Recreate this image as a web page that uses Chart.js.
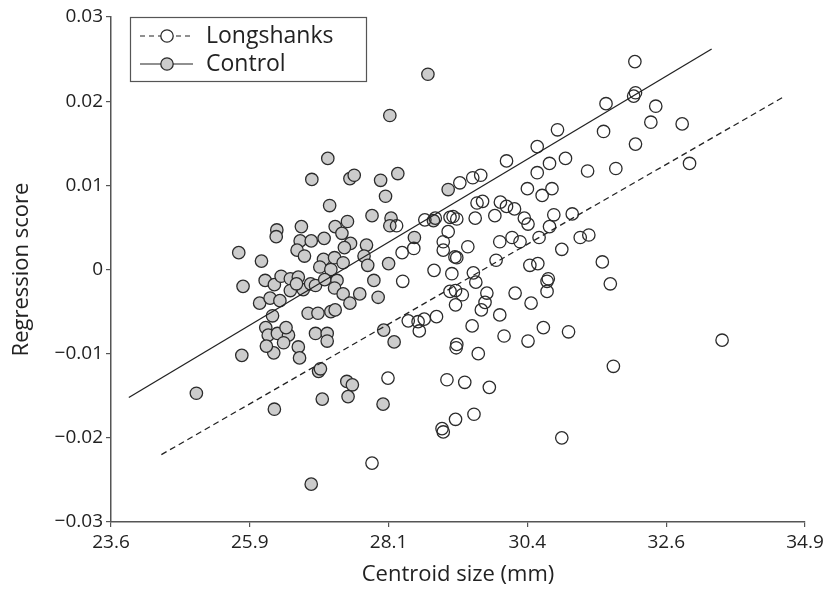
<!DOCTYPE html>
<html>
<head>
<meta charset="utf-8">
<script src="https://cdn.jsdelivr.net/npm/chart.js@4.4.1/dist/chart.umd.min.js"></script>
<style>
  html, body { margin: 0; padding: 0; background: #fff; }
  #wrap { width: 831px; height: 591px; }
</style>
</head>
<body>
<div id="wrap"><canvas id="chart" width="831" height="591"></canvas></div>
<script>
// centroid size (mm) and regression score
const controlSize = [28.76, 28.14, 27.13, 26.87, 27.49, 27.56, 27.99, 28.27, 28.07, 29.09,
  27.16, 27.85, 28.16, 28.14, 28.85, 26.70, 26.30, 26.29, 27.25, 27.45,
  27.36, 28.54, 25.68, 26.05, 26.68, 26.86, 26.63, 26.75, 27.07, 27.06,
  27.24, 27.00, 27.18, 27.38, 27.50, 27.40, 27.76, 27.72, 27.78, 27.88,
  28.12, 26.11, 26.26, 26.37, 26.52, 26.65, 26.52, 26.73, 26.85, 26.93,
  25.75, 26.02, 26.19, 26.35, 26.23, 27.08, 27.28, 27.24, 27.38, 27.49,
  27.65, 27.95, 26.81, 26.97, 27.18, 27.25, 26.12, 26.16, 26.31, 26.49,
  26.25, 26.13, 26.45, 26.65, 26.67, 26.93, 27.12, 27.12, 28.04, 28.21,
  25.73, 26.98, 27.01, 24.99, 26.26, 27.44, 27.53, 27.04, 27.46, 28.03,
  26.86, 26.41, 26.62];
const controlScore = [0.0232, 0.0183, 0.0132, 0.0107, 0.0108, 0.0112, 0.0106, 0.0114, 0.0087, 0.0095,
  0.0076, 0.0064, 0.0061, 0.0052, 0.0058, 0.0051, 0.0047, 0.0039, 0.0051, 0.0057,
  0.0043, 0.0038, 0.0020, 0.0010, 0.0034, 0.0034, 0.0023, 0.0016, 0.0037, 0.0012,
  0.0014, 0.0003, 0.0000, 0.0008, 0.0031, 0.0026, 0.0029, 0.0016, 0.0005, -0.0013,
  0.0007, -0.0013, -0.0018, -0.0008, -0.0011, -0.0009, -0.0025, -0.0024, -0.0017, -0.0019,
  -0.0020, -0.0040, -0.0034, -0.0037, -0.0055, -0.0012, -0.0013, -0.0022, -0.0029, -0.0040,
  -0.0029, -0.0033, -0.0052, -0.0052, -0.0050, -0.0048, -0.0069, -0.0078, -0.0076, -0.0078,
  -0.0099, -0.0091, -0.0069, -0.0092, -0.0105, -0.0076, -0.0076, -0.0085, -0.0072, -0.0086,
  -0.0102, -0.0121, -0.0118, -0.0147, -0.0166, -0.0133, -0.0137, -0.0154, -0.0151, -0.0160,
  -0.0255, -0.0087, -0.0017];

const longSize = [32.13, 32.14, 32.11, 31.66, 32.47, 30.87, 31.62, 32.39, 32.90, 32.14,
  30.54, 30.04, 30.74, 31.00, 33.02, 31.82, 31.36, 30.54, 29.28, 29.49,
  29.62, 30.38, 30.62, 30.78, 29.56, 29.65, 29.94, 30.04, 30.17, 29.85,
  30.33, 30.81, 31.11, 29.17, 29.53, 28.71, 28.88, 29.12, 29.23, 30.39,
  28.25, 29.09, 29.01, 29.01, 29.20, 29.93, 30.13, 30.26, 30.57, 30.74,
  30.94, 31.24, 31.38, 31.60, 28.34, 28.53, 29.41, 29.23, 29.87, 30.42,
  30.55, 28.86, 29.15, 29.50, 29.54, 28.35, 29.12, 29.21, 29.32, 29.72,
  29.69, 29.63, 30.18, 30.44, 30.72, 30.70, 30.70, 31.73, 29.21, 29.93,
  28.44, 28.60, 28.70, 28.90, 28.62, 29.48, 30.00, 30.39, 30.64, 31.05,
  33.55, 29.23, 29.22, 29.58, 31.78, 28.11, 29.07, 29.36, 29.76, 29.51,
  29.21, 28.99, 29.01, 30.94, 27.85];
const longScore = [0.0247, 0.0210, 0.0206, 0.0197, 0.0194, 0.0166, 0.0164, 0.0175, 0.0173, 0.0149,
  0.0146, 0.0129, 0.0126, 0.0132, 0.0126, 0.0120, 0.0117, 0.0115, 0.0103, 0.0109,
  0.0112, 0.0096, 0.0088, 0.0096, 0.0079, 0.0081, 0.0080, 0.0075, 0.0072, 0.0064,
  0.0061, 0.0065, 0.0066, 0.0063, 0.0061, 0.0059, 0.0061, 0.0062, 0.0060, 0.0054,
  0.0052, 0.0045, 0.0033, 0.0023, 0.0015, 0.0033, 0.0038, 0.0033, 0.0038, 0.0051,
  0.0024, 0.0038, 0.0041, 0.0009, 0.0020, 0.0025, 0.0027, 0.0014, 0.0011, 0.0005,
  0.0007, -0.0001, -0.0005, -0.0004, -0.0015, -0.0014, -0.0026, -0.0025, -0.0030, -0.0028,
  -0.0039, -0.0048, -0.0028, -0.0040, -0.0011, -0.0014, -0.0026, -0.0017, -0.0042, -0.0054,
  -0.0061, -0.0062, -0.0059, -0.0056, -0.0073, -0.0067, -0.0079, -0.0085, -0.0069, -0.0074,
  -0.0084, -0.0089, -0.0093, -0.0100, -0.0115, -0.0129, -0.0131, -0.0134, -0.0140, -0.0172,
  -0.0178, -0.0189, -0.0193, -0.0200, -0.0230];

// fitted lines (end points)
const controlFitX = [23.89, 33.38];
const controlFitY = [-0.0152, 0.0262];
const longFitX = [24.42, 34.55];
const longFitY = [-0.0220, 0.0205];

const xTicks = [23.6, 25.86, 28.12, 30.38, 32.64, 34.9];
const yTicks = [-0.03, -0.02, -0.01, 0, 0.01, 0.02, 0.03];

const FONT = "'Open Sans', 'Noto Sans', sans-serif";
const INK = "#222";
const AXIS = "#555";

function toPoints(xs, ys) {
  return xs.map((x, i) => ({ x: x, y: ys[i] }));
}

function fmtY(v) {
  if (Math.abs(v) < 1e-9) return "0";
  const s = Math.abs(v).toFixed(2);
  return v < 0 ? "\u2212" + s : s;
}

// boxed legend with line + marker samples
const boxLegend = {
  id: "boxLegend",
  afterDraw(chart) {
    const ctx = chart.ctx;
    const a = chart.chartArea;
    const left = a.left + 19;
    const top = a.top;
    const w = 236, h = 64;
    ctx.save();
    ctx.fillStyle = "#fff";
    ctx.fillRect(left, top, w, h);
    ctx.strokeStyle = AXIS;
    ctx.lineWidth = 1.2;
    ctx.strokeRect(left + 0.5, top + 0.5, w, h);

    const rows = [
      { label: "Longshanks", dash: [5, 4], fill: "rgba(255,255,255,0)" },
      { label: "Control", dash: [], fill: "#cccccc" }
    ];
    rows.forEach((r, i) => {
      const y = top + 19 + i * 28;
      ctx.setLineDash(r.dash);
      ctx.strokeStyle = INK;
      ctx.lineWidth = 1.2;
      ctx.beginPath();
      ctx.moveTo(left + 10, y);
      ctx.lineTo(left + 63, y);
      ctx.stroke();
      ctx.setLineDash([]);
      ctx.beginPath();
      ctx.arc(left + 37, y, 6.2, 0, Math.PI * 2);
      if (i === 1) { ctx.fillStyle = r.fill; ctx.fill(); }
      else { ctx.fillStyle = "#fff"; ctx.fill(); }
      ctx.strokeStyle = "#2b2b2b";
      ctx.lineWidth = 1.3;
      ctx.stroke();
      ctx.fillStyle = INK;
      ctx.font = "23px " + FONT;
      ctx.textBaseline = "middle";
      ctx.textAlign = "left";
      ctx.fillText(r.label, left + 76, y);
    });
    ctx.restore();
  }
};

new Chart(document.getElementById("chart"), {
  type: "scatter",
  data: {
    datasets: [
      {
        label: "Control fit",
        type: "line",
        data: toPoints(controlFitX, controlFitY),
        borderColor: INK,
        borderWidth: 1.3,
        pointRadius: 0,
        fill: false,
        order: 0
      },
      {
        label: "Longshanks fit",
        type: "line",
        data: toPoints(longFitX, longFitY),
        borderColor: INK,
        borderWidth: 1.3,
        borderDash: [6, 4],
        pointRadius: 0,
        fill: false,
        order: 0
      },
      {
        label: "Longshanks",
        data: toPoints(longSize, longScore),
        backgroundColor: "rgba(255,255,255,0)",
        borderColor: "#2b2b2b",
        borderWidth: 1.3,
        pointRadius: 6.2,
        order: 1
      },
      {
        label: "Control",
        data: toPoints(controlSize, controlScore),
        backgroundColor: "#cccccc",
        borderColor: "#2b2b2b",
        borderWidth: 1.3,
        pointRadius: 6.2,
        order: 2
      }
    ]
  },
  options: {
    responsive: false,
    animation: false,
    layout: { padding: { top: 17, right: 26, bottom: 0, left: 0 } },
    plugins: {
      legend: { display: false },
      tooltip: { enabled: false }
    },
    scales: {
      x: {
        type: "linear",
        min: 23.6,
        max: 34.9,
        afterBuildTicks: s => { s.ticks = xTicks.map(v => ({ value: v })); },
        afterFit: s => { s.height = 69; },
        grid: { display: true, drawOnChartArea: false, drawTicks: true, tickLength: 5, color: AXIS, lineWidth: 1.2 },
        border: { display: true, color: AXIS, width: 1.5 },
        ticks: {
          autoSkip: false,
          maxRotation: 0,
          padding: 4,
          color: INK,
          font: { family: FONT, size: 19 },
          callback: v => Number(v).toFixed(1)
        },
        title: {
          display: true,
          text: "Centroid size (mm)",
          color: INK,
          font: { family: FONT, size: 22 },
          padding: { top: 0, bottom: 3 }
        }
      },
      y: {
        type: "linear",
        min: -0.03,
        max: 0.03,
        afterBuildTicks: s => { s.ticks = yTicks.map(v => ({ value: v })); },
        afterFit: s => { s.width = 111; },
        grid: { display: true, drawOnChartArea: false, drawTicks: true, tickLength: 5, color: AXIS, lineWidth: 1.2 },
        border: { display: true, color: AXIS, width: 1.5 },
        ticks: {
          autoSkip: false,
          padding: 3,
          color: INK,
          font: { family: FONT, size: 19 },
          callback: v => fmtY(v)
        },
        title: {
          display: true,
          text: "Regression score",
          color: INK,
          font: { family: FONT, size: 22 },
          padding: { top: 9, bottom: 0 }
        }
      }
    }
  },
  plugins: [boxLegend]
});
</script>
</body>
</html>
